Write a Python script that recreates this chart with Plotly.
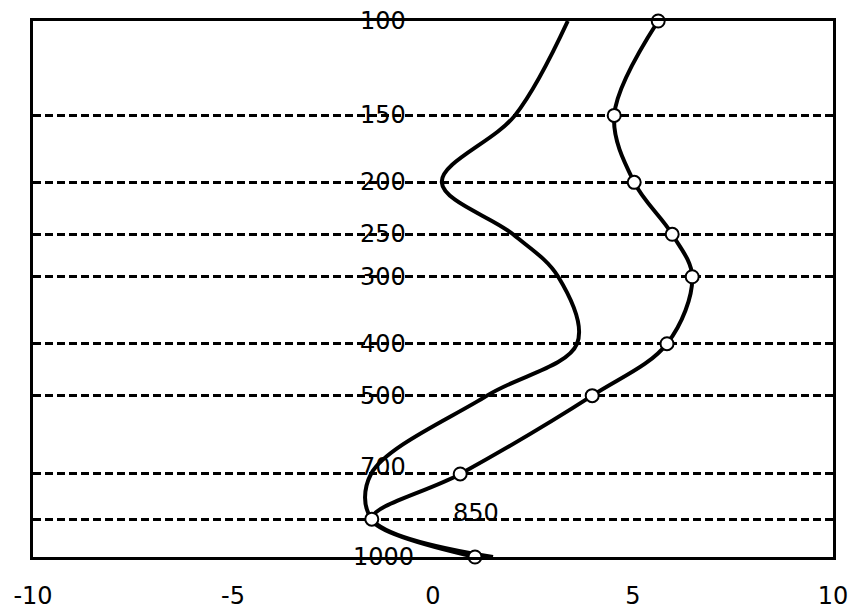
import plotly.graph_objects as go
import math

levels = [100, 150, 200, 250, 300, 400, 500, 700, 850, 1000]
level_labels = ["100", "150", "200", "250", "300", "400", "500", "700", "850", "1000"]
curve_a = [3.37, 2.05, 0.22, 2.0, 3.13, 3.6, 1.35, -1.55, -1.53, 1.5]
curve_b = [5.63, 4.53, 5.03, 5.98, 6.48, 5.85, 3.98, 0.68, -1.53, 1.05]
x_ticks = [-10, -5, 0, 5, 10]

FONT = "DejaVu Sans"

fig = go.Figure()
fig.add_trace(go.Scatter(
    x=curve_a, y=levels, mode="lines", cliponaxis=False,
    line=dict(color="black", width=4, shape="spline", smoothing=1),
    showlegend=False, hoverinfo="skip"))
fig.add_trace(go.Scatter(
    x=curve_b, y=levels, mode="lines+markers", cliponaxis=False,
    line=dict(color="black", width=4, shape="spline", smoothing=1),
    marker=dict(symbol="circle", size=13, color="white",
                line=dict(color="black", width=2)),
    showlegend=False, hoverinfo="skip"))

label_x = {"850": 1.08}
label_shift = {"700": 7, "850": 6}
for p, t in zip(levels, level_labels):
    fig.add_annotation(
        x=label_x.get(t, -1.25), y=math.log10(p), text=t, showarrow=False,
        xanchor="center", yanchor="middle", yshift=label_shift.get(t, 0),
        font=dict(family=FONT, size=24, color="black"))

fig.update_layout(
    width=856, height=609,
    margin=dict(l=33, r=23, t=21, b=52),
    paper_bgcolor="white", plot_bgcolor="white",
    font=dict(family=FONT, color="black"),
    xaxis=dict(range=[-10, 10], tickvals=x_ticks,
               ticktext=[str(v) for v in x_ticks],
               showgrid=False, zeroline=False, automargin=False,
               showline=True, mirror=True, linecolor="black", linewidth=2.5,
               ticks="outside", ticklen=15, tickcolor="rgba(0,0,0,0)",
               tickfont=dict(family=FONT, size=24, color="black")),
    yaxis=dict(type="log", range=[3, 2], tickvals=levels[1:-1],
               showticklabels=False, ticks="", automargin=False,
               showgrid=True, gridcolor="black", gridwidth=2.5,
               griddash="8px,4px", zeroline=False,
               showline=True, mirror=True, linecolor="black", linewidth=2.5),
)

fig.write_html("out.html")
